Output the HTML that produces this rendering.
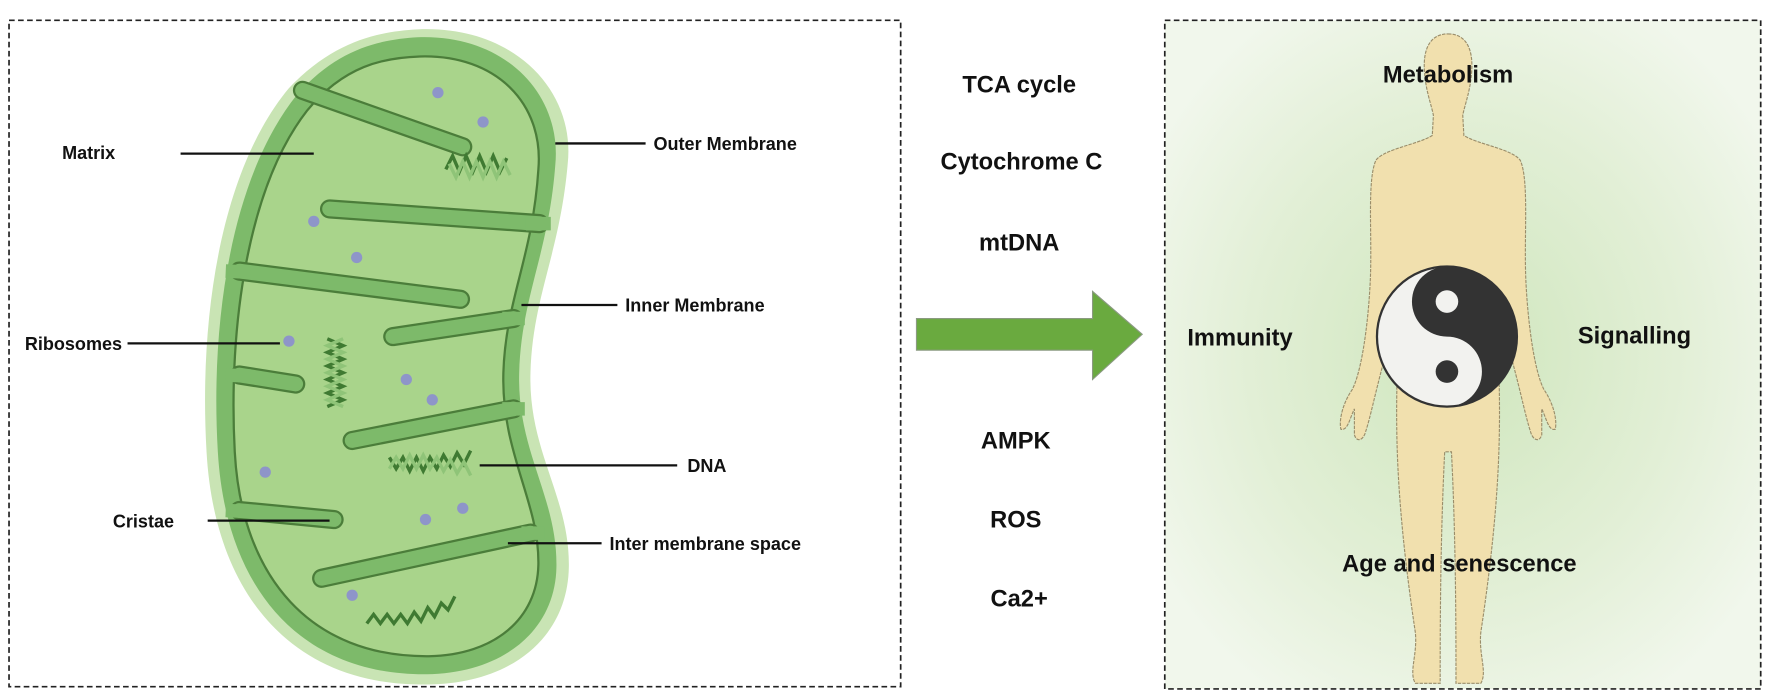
<!DOCTYPE html>
<html><head><meta charset="utf-8"><style>
html,body{margin:0;padding:0;background:#fff;}
svg{display:block;}
text{font-family:"Liberation Sans",Arial,sans-serif;font-weight:bold;fill:#111;}
</style></head><body>
<svg width="1772" height="698" viewBox="0 0 1570 618" preserveAspectRatio="none" xmlns="http://www.w3.org/2000/svg">
<defs>
<radialGradient id="bg" cx="0.5" cy="0.5" r="0.6">
<stop offset="0" stop-color="#cfe6bd"/><stop offset="0.6" stop-color="#e2efd6"/><stop offset="1" stop-color="#f1f7ec"/>
</radialGradient>
</defs>
<rect x="8" y="18" width="790" height="590" fill="#fff" stroke="#222" stroke-width="1.5" stroke-dasharray="5,3"/>
<rect x="1032" y="18" width="528" height="592" fill="url(#bg)" stroke="#222" stroke-width="1.5" stroke-dasharray="5,3"/>

<path d="M370,26 C455,22 510,80 503,145 C496,225 472,262 470,330 C468,400 505,440 504,502 C503,565 452,606 378,606 C258,608 190,525 183,400 C176,280 196,150 256,78 C296,36 335,28 370,26 Z" fill="#c9e4b4"/>
<path d="M370,33 C448,30 498,84 492,146 C486,225 462,262 460,330 C458,400 494,440 493,502 C492,558 446,596 378,597 C265,598 200,520 193,400 C186,282 206,155 263,84 C300,42 338,35 370,33 Z" fill="#7dba6a"/>
<path d="M372,50 C440,48 482,92 477,150 C472,228 448,265 446,330 C444,402 478,444 477,500 C476,548 438,580 380,581 C276,582 214,512 208,400 C202,288 220,165 272,98 C305,58 340,51 372,50 Z" fill="#a9d48b" stroke="#4b7d3a" stroke-width="2"/>
<g stroke-linecap="round" fill="none">
<g stroke="#4b7d3a" stroke-width="17">
<path d="M268,80 L410,130"/><path d="M478,198 L292,185"/><path d="M212,240 L408,265"/><path d="M455,282 L348,298"/>
<path d="M212,332 L262,340"/><path d="M455,362 L312,390"/><path d="M212,452 L296,460"/><path d="M470,472 L285,512"/>
</g>
<g stroke="#7dba6a" stroke-width="13">
<path d="M268,80 L410,130"/><path d="M478,198 L292,185"/><path d="M212,240 L408,265"/><path d="M455,282 L348,298"/>
<path d="M212,332 L262,340"/><path d="M455,362 L312,390"/><path d="M212,452 L296,460"/><path d="M470,472 L285,512"/>
</g>
<g stroke="#7dba6a" stroke-width="12" stroke-linecap="butt">
<path d="M200,240 L222,241"/><path d="M200,332 L222,333"/><path d="M200,452 L222,453"/>
<path d="M466,198 L488,198"/><path d="M445,282 L465,282"/><path d="M445,362 L465,362"/><path d="M462,472 L482,472"/>
</g>
</g>
<g fill="none" stroke="#3f7a32" stroke-width="3">
<path d="M395,150 l6,-12 l6,14 l6,-14 l6,14 l6,-14 l6,14 l6,-14 l6,14 l6,-12"/>
<path d="M398,145 l6,12 l6,-14 l6,14 l6,-14 l6,14 l6,-14 l6,14 l6,-14 l6,12" stroke="#8fc478"/>
<path d="M290,300 l14,6 l-14,6 l14,6 l-14,6 l14,6 l-14,6 l14,6 l-14,6 l14,6 l-14,6"/>
<path d="M304,300 l-14,6 l14,6 l-14,6 l14,6 l-14,6 l14,6 l-14,6 l14,6 l-14,6 l14,6" stroke="#8fc478"/>
<path d="M345,405 l6,10 l6,-10 l6,12 l6,-12 l6,12 l6,-12 l6,10 l6,-12 l6,10 l6,-12 l6,10 l6,-12"/>
<path d="M345,415 l6,-10 l6,10 l6,-12 l6,12 l6,-12 l6,12 l6,-10 l6,12 l6,-10 l6,12 l6,-10 l6,12" stroke="#8fc478"/>
<path d="M325,552 l6,-8 l6,8 l6,-8 l6,8 l6,-8 l6,8 l6,-10 l6,8 l6,-12 l6,8 l6,-12 l6,6 l6,-12"/>
</g>
<g fill="#8e95c9">
<circle cx="388" cy="82" r="5"/><circle cx="428" cy="108" r="5"/><circle cx="278" cy="196" r="5"/><circle cx="316" cy="228" r="5"/>
<circle cx="256" cy="302" r="5"/><circle cx="360" cy="336" r="5"/><circle cx="383" cy="354" r="5"/><circle cx="235" cy="418" r="5"/>
<circle cx="410" cy="450" r="5"/><circle cx="377" cy="460" r="5"/><circle cx="312" cy="527" r="5"/>
</g>
<g stroke="#111" stroke-width="2">
<line x1="160" y1="136" x2="278" y2="136"/><line x1="113" y1="304" x2="248" y2="304"/><line x1="184" y1="461" x2="292" y2="461"/>
<line x1="492" y1="127" x2="572" y2="127"/><line x1="462" y1="270" x2="547" y2="270"/><line x1="425" y1="412" x2="600" y2="412"/><line x1="450" y1="481" x2="533" y2="481"/>
</g>
<g font-size="16">
<text x="55" y="141">Matrix</text><text x="22" y="310">Ribosomes</text><text x="100" y="467">Cristae</text>
<text x="579" y="133">Outer Membrane</text><text x="554" y="276">Inner Membrane</text><text x="609" y="418">DNA</text><text x="540" y="487">Inter membrane space</text>
</g>
<g font-size="21" text-anchor="middle">
<text x="903" y="82">TCA cycle</text><text x="905" y="150">Cytochrome C</text><text x="903" y="222">mtDNA</text>
<text x="900" y="397">AMPK</text><text x="900" y="467">ROS</text><text x="903" y="537">Ca2+</text>
</g>
<path d="M812,282 L968,282 L968,258 L1012,296 L968,336 L968,310 L812,310 Z" fill="#6aaa3f" stroke="#8a9a80" stroke-width="1"/>

<path d="M1283,30 C1300,30 1305,45 1304,62 C1303,80 1298,92 1296,102 L1297,120 C1310,128 1340,132 1347,142 C1355,160 1350,210 1352,250 C1354,290 1360,330 1368,345 C1375,355 1380,370 1378,380 C1372,382 1370,370 1366,362 L1366,385 C1364,392 1358,390 1356,382 C1352,370 1348,350 1340,320 C1335,300 1330,280 1327,260 C1326,300 1330,340 1328,400 C1326,460 1318,520 1312,560 C1310,580 1318,595 1312,605 L1290,605 C1290,560 1290,480 1286,400 L1280,400 C1276,480 1276,560 1276,605 L1254,605 C1248,595 1256,580 1254,560 C1248,520 1240,460 1238,400 C1236,340 1240,300 1239,260 C1236,280 1231,300 1226,320 C1218,350 1214,370 1210,382 C1208,390 1202,392 1200,385 L1200,362 C1196,370 1194,382 1188,380 C1186,370 1191,355 1198,345 C1206,330 1212,290 1214,250 C1216,210 1211,160 1219,142 C1226,132 1256,128 1269,120 L1270,102 C1268,92 1263,80 1262,62 C1261,45 1266,30 1283,30 Z" fill="#f1e0ae" stroke="#9a8d6a" stroke-width="1" stroke-dasharray="3,1"/>
<g transform="translate(1282,298)">
<circle r="62" fill="#f2f2ef" stroke="#333" stroke-width="2"/>
<path d="M0,-62 A62,62 0 0 1 0,62 A31,31 0 0 0 0,0 A31,31 0 0 1 0,-62 Z" fill="#333"/>
<circle cy="-31" r="10" fill="#f2f2ef"/><circle cy="31" r="10" fill="#333"/>
</g>
<g font-size="21">
<text x="1283" y="73" text-anchor="middle">Metabolism</text>
<text x="1052" y="306">Immunity</text>
<text x="1398" y="304">Signalling</text>
<text x="1293" y="506" text-anchor="middle">Age and senescence</text>
</g>
</svg>
</body></html>
